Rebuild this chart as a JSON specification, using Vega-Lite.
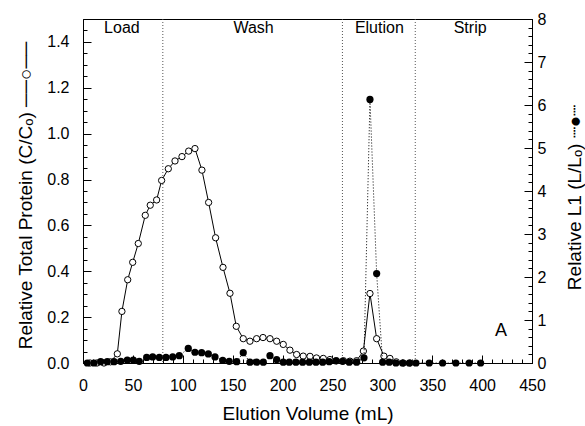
{
  "$schema": "https://vega.github.io/schema/vega-lite/v6.json",
  "width": 449,
  "height": 344,
  "autosize": {"type": "none"},
  "padding": {"left": 83, "top": 19, "right": 53, "bottom": 63},
  "background": "white",
  "config": {
    "view": {"stroke": "black", "strokeWidth": 1},
    "font": "Liberation Sans",
    "axis": {
      "grid": false,
      "domainColor": "black",
      "tickColor": "black",
      "labelColor": "black",
      "titleColor": "black",
      "labelFont": "Liberation Sans",
      "titleFont": "Liberation Sans",
      "labelFontSize": 16,
      "titleFontSize": 19,
      "titleFontWeight": "normal"
    }
  },
  "datasets": {
    "protein": [
      {"vol": 7, "rel": 0.0}, {"vol": 14, "rel": 0.0}, {"vol": 21, "rel": 0.0}, {"vol": 27.5, "rel": 0.005},
      {"vol": 34.4, "rel": 0.04}, {"vol": 39, "rel": 0.225}, {"vol": 44.8, "rel": 0.363}, {"vol": 49.8, "rel": 0.439},
      {"vol": 55.4, "rel": 0.521}, {"vol": 62.4, "rel": 0.644}, {"vol": 67.4, "rel": 0.688}, {"vol": 73.8, "rel": 0.711},
      {"vol": 78.8, "rel": 0.796}, {"vol": 85.5, "rel": 0.847}, {"vol": 92.2, "rel": 0.881}, {"vol": 99.2, "rel": 0.9},
      {"vol": 105.9, "rel": 0.924}, {"vol": 112.2, "rel": 0.935}, {"vol": 119.2, "rel": 0.841}, {"vol": 125.9, "rel": 0.7},
      {"vol": 132.9, "rel": 0.546}, {"vol": 140.3, "rel": 0.417}, {"vol": 147.3, "rel": 0.304}, {"vol": 153.6, "rel": 0.16},
      {"vol": 160.6, "rel": 0.106}, {"vol": 167.3, "rel": 0.095}, {"vol": 174, "rel": 0.106}, {"vol": 180.4, "rel": 0.111},
      {"vol": 187.4, "rel": 0.106}, {"vol": 194.1, "rel": 0.095}, {"vol": 200.7, "rel": 0.081}, {"vol": 207.4, "rel": 0.056},
      {"vol": 214.1, "rel": 0.037}, {"vol": 220.7, "rel": 0.03}, {"vol": 227.5, "rel": 0.029}, {"vol": 234, "rel": 0.022},
      {"vol": 240.8, "rel": 0.02}, {"vol": 247.5, "rel": 0.015}, {"vol": 254, "rel": 0.01}, {"vol": 261, "rel": 0.01},
      {"vol": 267.5, "rel": 0.008}, {"vol": 274.2, "rel": 0.01}, {"vol": 281, "rel": 0.052}, {"vol": 287.6, "rel": 0.303},
      {"vol": 294.3, "rel": 0.106}, {"vol": 301.6, "rel": 0.03}, {"vol": 307.6, "rel": 0.02}, {"vol": 314, "rel": 0.005},
      {"vol": 321, "rel": 0.0}, {"vol": 327.7, "rel": 0.0}
    ],
    "l1": [
      {"vol": 4.3, "l1": 0.0}, {"vol": 11, "l1": 0.0}, {"vol": 17.7, "l1": 0.03}, {"vol": 24.3, "l1": 0.03},
      {"vol": 31.1, "l1": 0.03}, {"vol": 37.8, "l1": 0.04}, {"vol": 44.4, "l1": 0.07}, {"vol": 50.4, "l1": 0.07},
      {"vol": 56.4, "l1": 0.04}, {"vol": 63.8, "l1": 0.13}, {"vol": 69.8, "l1": 0.14}, {"vol": 76.5, "l1": 0.13},
      {"vol": 83.2, "l1": 0.13}, {"vol": 89.9, "l1": 0.14}, {"vol": 96.5, "l1": 0.17}, {"vol": 105.5, "l1": 0.34},
      {"vol": 112.2, "l1": 0.25}, {"vol": 118.9, "l1": 0.24}, {"vol": 125.6, "l1": 0.21}, {"vol": 132.3, "l1": 0.14},
      {"vol": 140, "l1": 0.06}, {"vol": 146.6, "l1": 0.04}, {"vol": 154, "l1": 0.03}, {"vol": 160.6, "l1": 0.24},
      {"vol": 167.3, "l1": 0.02}, {"vol": 174, "l1": 0.02}, {"vol": 180.7, "l1": 0.02}, {"vol": 187.4, "l1": 0.17},
      {"vol": 194.1, "l1": 0.08}, {"vol": 200.7, "l1": 0.02}, {"vol": 206.7, "l1": 0.02}, {"vol": 213.4, "l1": 0.02},
      {"vol": 220.1, "l1": 0.02}, {"vol": 226.8, "l1": 0.02}, {"vol": 233.5, "l1": 0.02}, {"vol": 240.2, "l1": 0.02},
      {"vol": 246.8, "l1": 0.03}, {"vol": 253.5, "l1": 0.05}, {"vol": 260.2, "l1": 0.04}, {"vol": 266.8, "l1": 0.02},
      {"vol": 274.2, "l1": 0.02}, {"vol": 281.6, "l1": 0.12}, {"vol": 287.6, "l1": 6.13}, {"vol": 294.3, "l1": 2.08},
      {"vol": 300.3, "l1": 0.02}, {"vol": 306.9, "l1": 0.02}, {"vol": 313.6, "l1": 0.0}, {"vol": 320.3, "l1": 0.0},
      {"vol": 327, "l1": 0.0}, {"vol": 333.7, "l1": 0.0}, {"vol": 347, "l1": 0.0}, {"vol": 360.4, "l1": 0.0},
      {"vol": 373.7, "l1": 0.0}, {"vol": 387, "l1": 0.0}, {"vol": 398.5, "l1": 0.0}
    ],
    "bounds": [{"vol": 80}, {"vol": 260}, {"vol": 333}],
    "phases": [
      {"vol": 39, "rel": 1.46, "label": "Load"},
      {"vol": 171, "rel": 1.46, "label": "Wash"},
      {"vol": 297, "rel": 1.46, "label": "Elution"},
      {"vol": 388, "rel": 1.46, "label": "Strip"}
    ],
    "tag": [{"vol": 419, "rel": 0.14, "label": "A"}]
  },
  "layer": [
    {
      "resolve": {"axis": {"x": "independent", "y": "independent"}},
      "layer": [
        {
          "data": {"name": "bounds"},
          "mark": {"type": "rule", "color": "#555555", "strokeWidth": 1, "strokeDash": [1, 2]},
          "encoding": {
            "x": {"field": "vol", "type": "quantitative", "scale": {"domain": [0, 450], "nice": false}, "axis": null}
          }
        },
        {
          "data": {"name": "phases"},
          "mark": {"type": "text", "fontSize": 16, "font": "Liberation Sans", "color": "black"},
          "encoding": {
            "x": {"field": "vol", "type": "quantitative", "axis": null},
            "y": {"field": "rel", "type": "quantitative", "axis": null},
            "text": {"field": "label"}
          }
        },
        {
          "data": {"name": "tag"},
          "mark": {"type": "text", "fontSize": 18, "font": "Liberation Sans", "color": "black"},
          "encoding": {
            "x": {"field": "vol", "type": "quantitative", "axis": null},
            "y": {"field": "rel", "type": "quantitative", "axis": null},
            "text": {"field": "label"}
          }
        },
        {
          "data": {"name": "protein"},
          "mark": {"type": "line", "color": "black", "strokeWidth": 1},
          "encoding": {
            "x": {
              "field": "vol", "type": "quantitative",
              "scale": {"domain": [0, 450], "nice": false},
              "axis": {
                "orient": "bottom",
                "title": "Elution Volume (mL)",
                "values": [0, 50, 100, 150, 200, 250, 300, 350, 400, 450],
                "format": "d",
                "tickSize": -8,
                "labelPadding": 22,
                "titlePadding": 11,
                "labelFlush": false,
                "labelOverlap": false
              }
            },
            "y": {
              "field": "rel", "type": "quantitative",
              "scale": {"domain": [0, 1.5], "nice": false},
              "axis": {
                "orient": "left",
                "title": "Relative Total Protein (C/Cₒ) ──○──",
                "values": [0, 0.2, 0.4, 0.6, 0.8, 1.0, 1.2, 1.4],
                "format": ".1f",
                "tickSize": -8,
                "labelPadding": 22,
                "titleAngle": 270,
                "titleX": -58,
                "titleY": 176,
                "titleBaseline": "middle",
                "titleAlign": "center",
                "labelOverlap": false,
                "labelFlush": false
              }
            }
          }
        },
        {
          "data": {"name": "protein"},
          "mark": {"type": "point", "shape": "circle", "filled": true, "fill": "white", "stroke": "black", "strokeWidth": 1, "size": 40, "opacity": 1},
          "encoding": {
            "x": {
              "field": "vol", "type": "quantitative",
              "axis": {
                "orient": "bottom",
                "title": null,
                "labels": false,
                "domain": false,
                "tickSize": -4,
                "values": [0,10,20,30,40,50,60,70,80,90,100,110,120,130,140,150,160,170,180,190,200,210,220,230,240,250,260,270,280,290,300,310,320,330,340,350,360,370,380,390,400,410,420,430,440,450]
              }
            },
            "y": {
              "field": "rel", "type": "quantitative",
              "axis": {
                "orient": "left",
                "title": null,
                "labels": false,
                "domain": false,
                "tickSize": -4,
                "values": [0,0.05,0.1,0.15,0.2,0.25,0.3,0.35,0.4,0.45,0.5,0.55,0.6,0.65,0.7,0.75,0.8,0.85,0.9,0.95,1,1.05,1.1,1.15,1.2,1.25,1.3,1.35,1.4,1.45,1.5]
              }
            }
          }
        }
      ]
    },
    {
      "resolve": {"axis": {"y": "independent"}},
      "layer": [
        {
          "data": {"name": "l1"},
          "mark": {"type": "line", "color": "black", "strokeWidth": 1, "strokeDash": [1, 2]},
          "encoding": {
            "x": {"field": "vol", "type": "quantitative", "axis": null},
            "y": {
              "field": "l1", "type": "quantitative",
              "scale": {"domain": [0, 8], "nice": false},
              "axis": {
                "orient": "right",
                "title": "Relative L1 (L/Lₒ) ┈●┈",
                "values": [0, 1, 2, 3, 4, 5, 6, 7, 8],
                "format": "d",
                "tickSize": -8,
                "labelPadding": 13,
                "titleAngle": 270,
                "titleX": 42,
                "titleY": 178,
                "titleBaseline": "middle",
                "titleAlign": "center",
                "labelOverlap": false,
                "labelFlush": false
              }
            }
          }
        },
        {
          "data": {"name": "l1"},
          "mark": {"type": "point", "shape": "circle", "filled": true, "color": "black", "size": 52, "opacity": 1},
          "encoding": {
            "x": {"field": "vol", "type": "quantitative", "axis": null},
            "y": {
              "field": "l1", "type": "quantitative",
              "axis": {
                "orient": "right",
                "title": null,
                "labels": false,
                "domain": false,
                "tickSize": -4,
                "values": [0,0.2,0.4,0.6,0.8,1,1.2,1.4,1.6,1.8,2,2.2,2.4,2.6,2.8,3,3.2,3.4,3.6,3.8,4,4.2,4.4,4.6,4.8,5,5.2,5.4,5.6,5.8,6,6.2,6.4,6.6,6.8,7,7.2,7.4,7.6,7.8,8]
              }
            }
          }
        }
      ]
    }
  ],
  "resolve": {"scale": {"y": "independent"}}
}
